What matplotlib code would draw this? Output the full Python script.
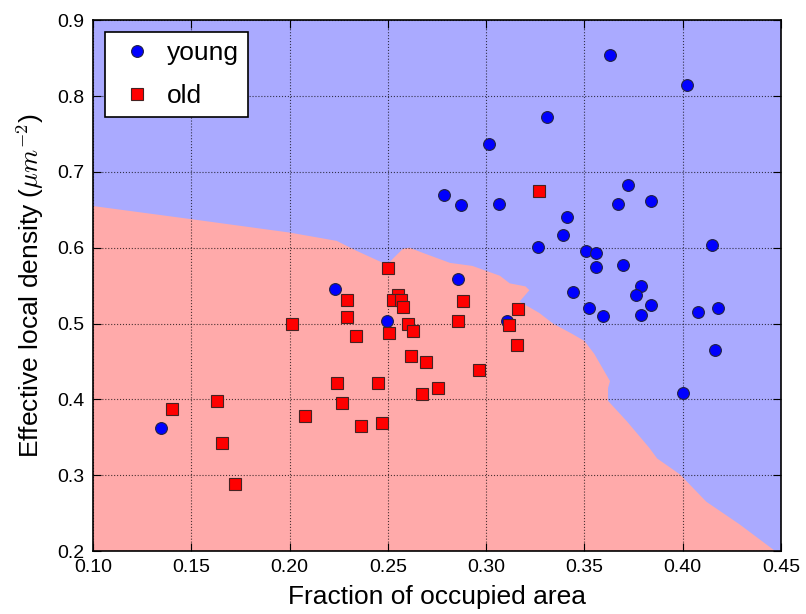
import numpy as np
import matplotlib
matplotlib.use("Agg")
from matplotlib import pyplot as plt

plt.rcParams['font.family'] = ['Liberation Sans', 'DejaVu Sans']
plt.rcParams['mathtext.fontset'] = 'cm'

# young cells (blue circles)
young_x = [0.363, 0.402, 0.331, 0.3014, 0.2785, 0.287, 0.3065, 0.372, 0.367, 0.384,
           0.341, 0.339, 0.3263, 0.3508, 0.356, 0.356, 0.3696, 0.415, 0.2857, 0.344,
           0.3787, 0.376, 0.384, 0.3523, 0.3594, 0.379, 0.4077, 0.418, 0.3106, 0.4164,
           0.400, 0.223, 0.2496, 0.1346]
young_y = [0.854, 0.814, 0.773, 0.737, 0.670, 0.657, 0.658, 0.683, 0.658, 0.662,
           0.641, 0.617, 0.601, 0.596, 0.593, 0.575, 0.577, 0.604, 0.559, 0.542,
           0.550, 0.538, 0.525, 0.521, 0.510, 0.511, 0.515, 0.521, 0.503, 0.465,
           0.408, 0.546, 0.503, 0.362]

# old cells (red squares)
old_x = [0.250, 0.229, 0.2551, 0.2526, 0.2567, 0.2577, 0.229, 0.2012, 0.2602, 0.2628,
         0.2506, 0.2338, 0.2617, 0.2694, 0.2241, 0.245, 0.2755, 0.2673, 0.2267, 0.163,
         0.140, 0.2078, 0.2363, 0.247, 0.1656, 0.172, 0.327, 0.288, 0.2857, 0.316,
         0.3116, 0.3157, 0.2963]
old_y = [0.5735, 0.531, 0.538, 0.531, 0.531, 0.522, 0.509, 0.499, 0.499, 0.490,
         0.488, 0.484, 0.457, 0.449, 0.421, 0.421, 0.415, 0.407, 0.395, 0.398,
         0.387, 0.378, 0.365, 0.369, 0.342, 0.288, 0.675, 0.530, 0.503, 0.519,
         0.498, 0.472, 0.439]

# decision boundary (old region below)
bound_x = [0.100, 0.149, 0.200, 0.224, 0.234, 0.2475, 0.2495, 0.2535, 0.2577, 0.261,
           0.268, 0.2816, 0.293, 0.307, 0.312, 0.320, 0.322, 0.317, 0.327, 0.334,
           0.344, 0.350, 0.355, 0.361, 0.363, 0.362, 0.362, 0.3716, 0.383, 0.387,
           0.3986, 0.412, 0.429, 0.447]
bound_y = [0.655, 0.638, 0.620, 0.609, 0.596, 0.580, 0.577, 0.588, 0.5986, 0.600,
           0.593, 0.580, 0.576, 0.563, 0.553, 0.549, 0.544, 0.529, 0.514, 0.500,
           0.486, 0.477, 0.460, 0.433, 0.424, 0.415, 0.398, 0.371, 0.336, 0.322,
           0.301, 0.265, 0.235, 0.200]

fig = plt.figure(figsize=(8.06, 6.14), dpi=100)
ax = fig.add_axes([0.1154, 0.1026, 0.8536, 0.8644])
ax.set_facecolor('#aaaaff')

poly_x = [0.10] + bound_x + [0.10]
poly_y = [0.20] + bound_y + [0.20]
ax.fill(poly_x, poly_y, color='#ffaaaa', lw=0, zorder=1)

ax.plot(young_x, young_y, 'o', color='blue', mec='#222244', mew=0.8, ms=8.5,
        label='young', zorder=3)
ax.plot(old_x, old_y, 's', color='red', mec='#442222', mew=0.8, ms=8,
        label='old', zorder=3)

ax.set_xlim(0.10, 0.45)
ax.set_ylim(0.2, 0.9)
ax.set_xticks(np.arange(0.10, 0.451, 0.05))
ax.set_xticklabels(['%.2f' % v for v in np.arange(0.10, 0.451, 0.05)])
ax.set_yticks(np.arange(0.2, 0.91, 0.1))
ax.set_yticklabels(['%.1f' % v for v in np.arange(0.2, 0.91, 0.1)])
ax.grid(True, color='k', linestyle=':', linewidth=0.8, alpha=0.7)
ax.set_axisbelow(False)
ax.tick_params(direction='in', top=True, right=True, labelsize=14, length=6, pad=6)
for s in ax.spines.values():
    s.set_linewidth(1.2)

ax.set_xlabel('Fraction of occupied area', fontsize=19, labelpad=6)
ax.set_ylabel(r'Effective local density ($\mu m^{-2}$)', fontsize=19, labelpad=8)

leg = ax.legend(loc='upper left', fontsize=19, numpoints=1, fancybox=False,
                framealpha=1, edgecolor='k', borderaxespad=0.45, handletextpad=0.3,
                handlelength=1.7, borderpad=0.35, labelspacing=0.7)
leg.get_frame().set_linewidth(1.2)

fig.savefig('out.png', dpi=100)
